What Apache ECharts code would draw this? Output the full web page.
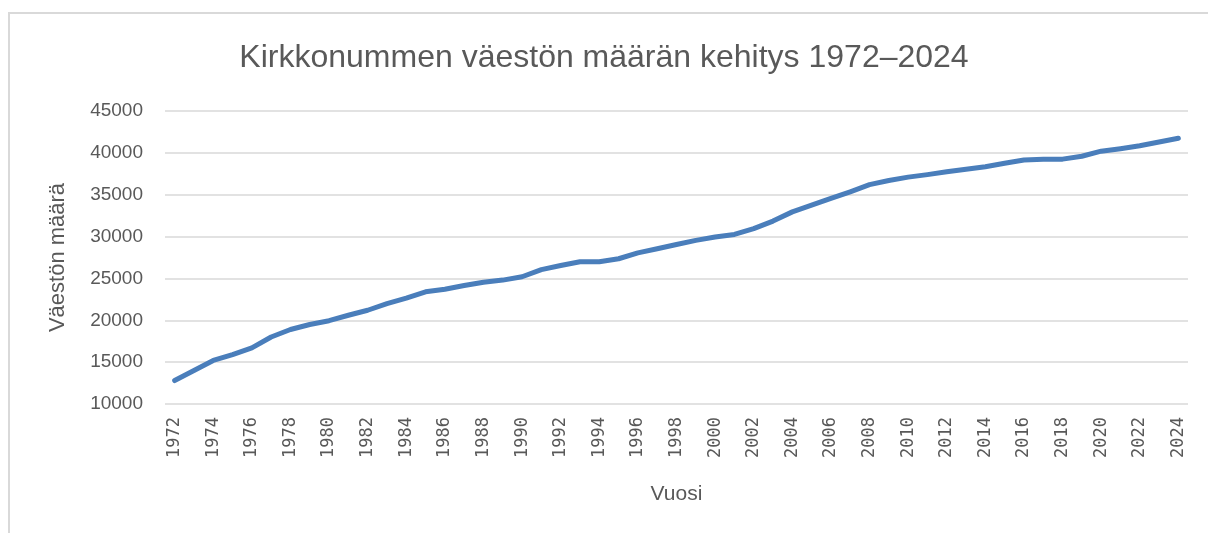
<!DOCTYPE html>
<html>
<head>
<meta charset="utf-8">
<script src="https://cdn.jsdelivr.net/npm/echarts@6/dist/echarts.min.js"></script>
<style>
  html, body { margin: 0; padding: 0; background: #fff; }
  .frame {
    position: absolute; left: 8px; top: 12px; width: 1200px; height: 521px;
    border-left: 2px solid #d9d9d9; border-top: 2px solid #d9d9d9;
  }
  #chart { position: absolute; left: 0; top: 0; width: 1208px; height: 533px; }
</style>
</head>
<body>
<div class="frame"></div>
<div id="chart"></div>
<script>
const years = [];
for (let y = 1972; y <= 2024; y++) years.push(String(y));

// väestö vuosittain (luettu kuvasta)
const population = [
  12800, 14000, 15200, 15900, 16700, 18000, 18900, 19500, 19950, 20600,
  21200, 22000, 22650, 23400, 23700, 24150, 24550, 24800, 25200, 26050,
  26550, 27000, 27000, 27350, 28050, 28550, 29050, 29550, 29950, 30250,
  30950, 31850, 32950, 33750, 34550, 35350, 36200, 36700, 37100, 37400,
  37750, 38050, 38350, 38750, 39150, 39250, 39250, 39600, 40200, 40500,
  40850, 41300, 41750
];

const yTicks = { min: 10000, max: 45000, step: 5000 };

const textColor = "#595959";
const gridColor = "#d9d9d9";
const font = "Liberation Sans";

const chart = echarts.init(document.getElementById("chart"));
chart.setOption({
  animation: false,
  title: {
    text: "Kirkkonummen väestön määrän kehitys 1972–2024",
    left: "center",
    top: 37,
    textStyle: { fontFamily: font, fontSize: 32, fontWeight: "normal", color: textColor },
  },
  grid: { left: 165, right: 20, top: 111, bottom: 129 },
  xAxis: {
    type: "category",
    data: years,
    boundaryGap: true,
    name: "Vuosi",
    nameLocation: "middle",
    nameGap: 80,
    nameTextStyle: { fontFamily: font, fontSize: 21, color: textColor },
    axisLine: { show: false },
    axisTick: { show: false },
    axisLabel: {
      interval: 1,
      rotate: 90,
      margin: 13,
      fontFamily: "DejaVu Sans Mono",
      fontSize: 17,
      color: textColor,
    },
  },
  yAxis: {
    type: "value",
    min: yTicks.min,
    max: yTicks.max,
    interval: yTicks.step,
    name: "Väestön määrä",
    nameLocation: "middle",
    nameGap: 96,
    nameRotate: 90,
    nameTextStyle: { fontFamily: font, fontSize: 22, color: textColor },
    axisLine: { show: false },
    axisTick: { show: false },
    axisLabel: {
      margin: 22,
      fontFamily: font,
      fontSize: 19,
      color: textColor,
      formatter: (v) => String(v),
    },
    splitLine: { lineStyle: { color: gridColor, width: 1.5 } },
  },
  series: [
    {
      type: "line",
      data: population,
      showSymbol: false,
      lineStyle: { color: "#4a7ebb", width: 5, cap: "round", join: "round" },
      itemStyle: { color: "#4a7ebb" },
    },
  ],
});
</script>
</body>
</html>
